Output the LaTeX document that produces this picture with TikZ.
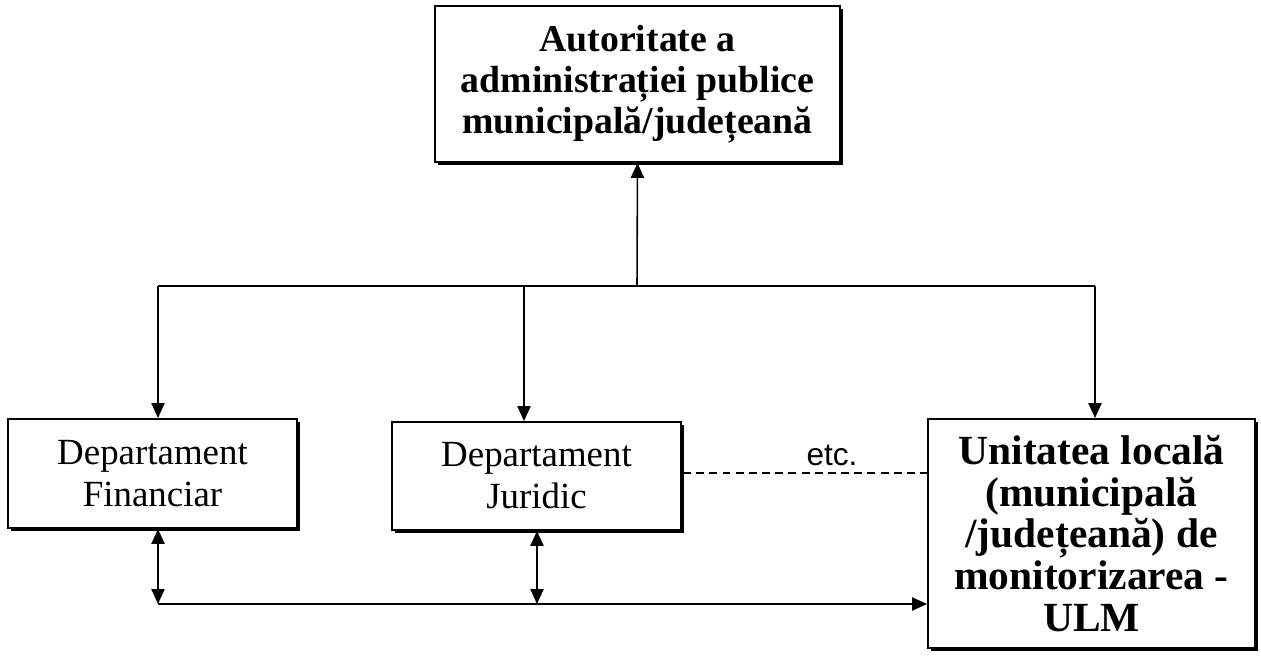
\documentclass[tikz,border=0pt]{standalone}
\usepackage{fontspec}
\setmainfont{Liberation Serif}
\newfontfamily\arialfont{Liberation Sans}
\usetikzlibrary{arrows.meta,shadows}

\tikzset{
    box/.style={draw, line width=1.1pt, fill=white, inner sep=0pt, align=center,
        drop shadow={shadow xshift=1.9pt, shadow yshift=-1.9pt, fill=black, opacity=1}},
    arr/.style={line width=0.9pt, -{Triangle[length=8.5pt,width=7.5pt]}},
    darr/.style={line width=0.9pt, {Triangle[length=8.5pt,width=7.5pt]}-{Triangle[length=8.5pt,width=7.5pt]}}
}

\begin{document}
\begin{tikzpicture}[x=0.02cm, y=-0.02cm]
    \useasboundingbox (0,0) rectangle (1261,656);
    % boxes
    \node[box, minimum width=405*0.02cm, minimum height=156*0.02cm,
        font=\fontsize{21.5}{23.4}\selectfont\bfseries] (auth) at (637.5,84)
        {Autoritate a\\administrației publice\\municipală/județeană};
    \node[box, minimum width=289*0.02cm, minimum height=109*0.02cm,
        font=\fontsize{21}{23.5}\selectfont] (fin) at (152.5,473.5)
        {Departament\\Financiar};
    \node[box, minimum width=289*0.02cm, minimum height=108*0.02cm,
        font=\fontsize{21}{24}\selectfont] (jur) at (536.5,476)
        {Departament\\Juridic};
    \node[box, minimum width=327*0.02cm, minimum height=229*0.02cm,
        font=\fontsize{23.6}{23.8}\selectfont\bfseries] (ulm) at (1091.5,533.5)
        {Unitatea locală\\(municipală\\/județeană) de\\monitorizarea -\\ULM};
    \node[font=\arialfont\fontsize{18}{20}\selectfont] (etc) at (832,455) {etc.};
    % junctions
    \coordinate (top) at (637,286);
    \coordinate (tl) at (158,286);
    \coordinate (tm) at (524,286);
    \coordinate (tr) at (1095,286);
    \coordinate (bl) at (158,604);
    \coordinate (bm) at (537,604);
    \coordinate (dl) at (683,473);
    % connectors
    \draw[arr] (top) -- (auth.south);
    \draw[line width=0.9pt] (tl) -- (tr);
    \draw[arr] (tl) -- (tl |- fin.north);
    \draw[arr] (tm) -- (tm |- jur.north);
    \draw[arr] (tr) -- (tr |- ulm.north);
    \draw[arr] (bl) -- (bl -| ulm.west);
    \draw[darr] (bl |- fin.south) -- (bl);
    \draw[darr] (bm |- jur.south) -- (bm);
    \draw[line width=0.8pt, dash pattern=on 4.5pt off 3pt] (dl) -- (dl -| ulm.west);
\end{tikzpicture}
\end{document}
